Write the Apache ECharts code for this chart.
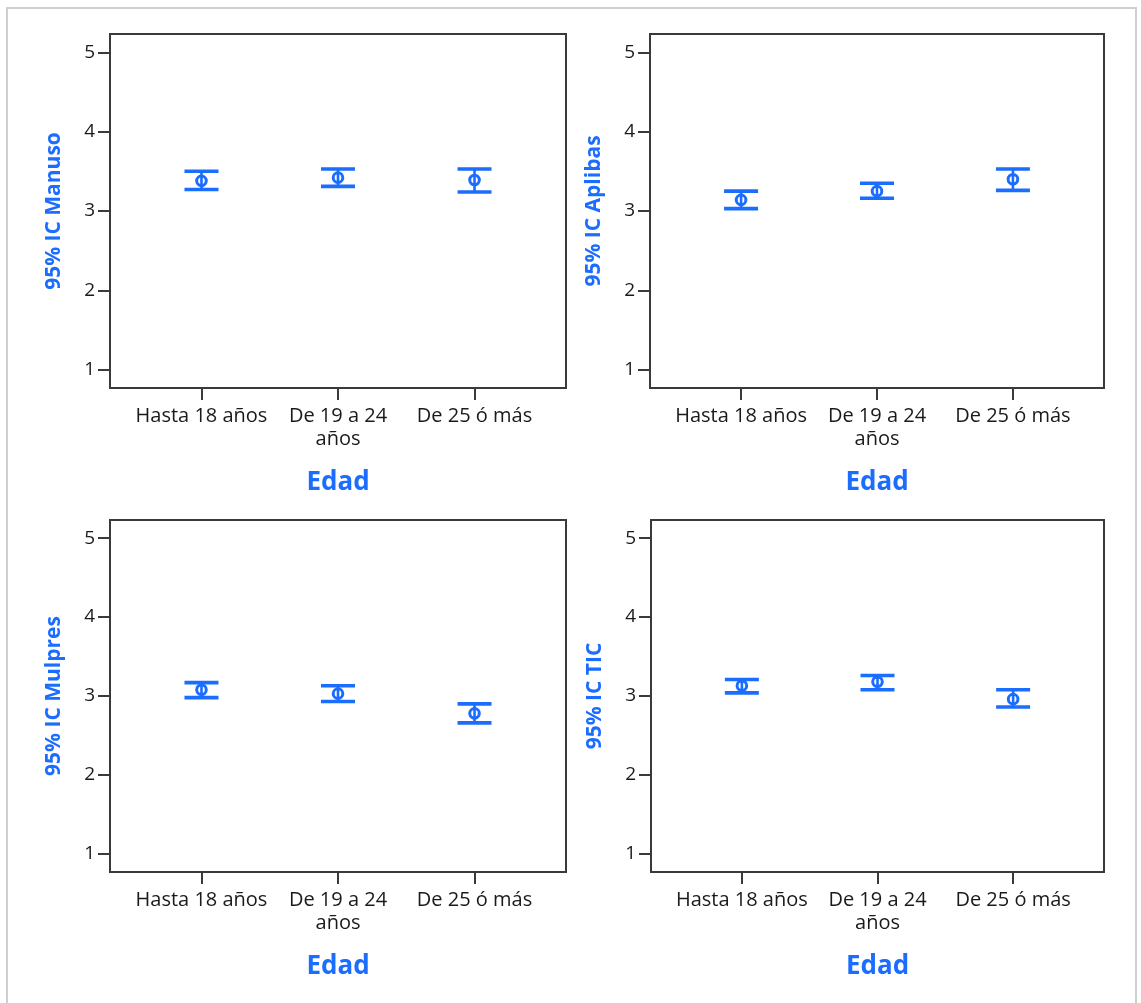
<!DOCTYPE html>
<html>
<head>
<meta charset="utf-8">
<script src="https://cdn.jsdelivr.net/npm/echarts@6/dist/echarts.min.js"></script>
<style>
html,body{margin:0;padding:0;background:#fff;}
#frame{position:absolute;left:6px;top:7px;width:1131px;height:1010px;border:2px solid #cfcfcf;box-sizing:border-box;}
#chart{position:absolute;left:0;top:0;width:1141px;height:1003px;}
</style>
</head>
<body>
<div id="frame"></div>
<div id="chart"></div>
<script>
// ---- data ----
const categories = ['Hasta 18 años', 'De 19 a 24\naños', 'De 25 ó más'];
const yTickValues = [1, 2, 3, 4, 5];
const xTickValues = [1, 2, 3];
const xTitle = 'Edad';
const yTitles = ['95% IC Manuso', '95% IC Aplibas', '95% IC Mulpres', '95% IC TIC'];

const manusoMean = [3.38, 3.42, 3.39];
const manusoLow  = [3.27, 3.31, 3.24];
const manusoHigh = [3.50, 3.53, 3.53];

const aplibasMean = [3.14, 3.25, 3.40];
const aplibasLow  = [3.03, 3.16, 3.26];
const aplibasHigh = [3.25, 3.35, 3.53];

const mulpresMean = [3.08, 3.03, 2.78];
const mulpresLow  = [2.98, 2.93, 2.66];
const mulpresHigh = [3.17, 3.13, 2.90];

const ticMean = [3.13, 3.18, 2.96];
const ticLow  = [3.04, 3.08, 2.86];
const ticHigh = [3.21, 3.26, 3.08];

const panels = [
  {mean: manusoMean, low: manusoLow, high: manusoHigh},
  {mean: aplibasMean, low: aplibasLow, high: aplibasHigh},
  {mean: mulpresMean, low: mulpresLow, high: mulpresHigh},
  {mean: ticMean, low: ticLow, high: ticHigh}
];

// ---- layout / style ----
const BLUE = '#1b6dff';
const DARK = '#3a3a3a';
const FONT = 'Open Sans';
const grids = [
  {left: 110, top: 34, width: 456, height: 354},
  {left: 650, top: 34, width: 454, height: 354},
  {left: 110, top: 520, width: 456, height: 352},
  {left: 651, top: 520, width: 453, height: 352}
];

const option = {
  animation: false,
  backgroundColor: 'transparent',
  grid: grids.map(g => Object.assign({show: true, borderColor: DARK, borderWidth: 2, backgroundColor: 'transparent'}, g)),
  xAxis: grids.map((g, i) => ({
    gridIndex: i,
    type: 'value',
    min: 0.33,
    max: 3.67,
    splitLine: {show: false},
    axisLine: {show: true, onZero: false, lineStyle: {color: DARK, width: 2}},
    axisTick: {show: true, customValues: xTickValues, length: 12, lineStyle: {color: DARK, width: 2}},
    axisLabel: {
      customValues: xTickValues,
      formatter: v => categories[Math.round(v) - 1] || '',
      fontFamily: FONT, fontSize: 20, color: '#1a1a1a', margin: 17, lineHeight: 23
    },
    name: xTitle,
    nameLocation: 'middle',
    nameGap: 82,
    nameTextStyle: {fontFamily: FONT, fontSize: 26, fontWeight: 'bold', color: BLUE}
  })),
  yAxis: grids.map((g, i) => ({
    gridIndex: i,
    type: 'value',
    min: 0.77,
    max: 5.23,
    splitLine: {show: false},
    axisLine: {show: true, onZero: false, lineStyle: {color: DARK, width: 2}},
    axisTick: {show: true, customValues: yTickValues, length: 12, lineStyle: {color: DARK, width: 2}},
    axisLabel: {
      customValues: yTickValues,
      fontFamily: FONT, fontSize: 19, color: '#1a1a1a', margin: 15
    },
    name: yTitles[i],
    nameLocation: 'middle',
    nameRotate: 90,
    nameGap: 45,
    nameTextStyle: {fontFamily: FONT, fontSize: 21, fontWeight: 'bold', color: BLUE}
  })),
  series: panels.map((p, i) => ({
    type: 'custom',
    xAxisIndex: i,
    yAxisIndex: i,
    data: p.mean.map((m, k) => [xTickValues[k], m, p.low[k], p.high[k]]),
    renderItem: function (params, api) {
      const x = api.value(0);
      const c = api.coord([x, api.value(1)]);
      const lo = api.coord([x, api.value(2)]);
      const hi = api.coord([x, api.value(3)]);
      const half = 17;
      const st = {stroke: BLUE, lineWidth: 3.6, fill: null};
      return {
        type: 'group',
        children: [
          {type: 'line', shape: {x1: hi[0], y1: hi[1], x2: lo[0], y2: lo[1]}, style: {stroke: BLUE, lineWidth: 2.6}},
          {type: 'line', shape: {x1: hi[0] - half, y1: hi[1], x2: hi[0] + half, y2: hi[1]}, style: st},
          {type: 'line', shape: {x1: lo[0] - half, y1: lo[1], x2: lo[0] + half, y2: lo[1]}, style: st},
          {type: 'circle', shape: {cx: c[0], cy: c[1], r: 4.8}, style: {stroke: BLUE, lineWidth: 3, fill: 'transparent'}}
        ]
      };
    }
  }))
};

const chart = echarts.init(document.getElementById('chart'), null, {renderer: 'canvas'});
chart.setOption(option);
</script>
</body>
</html>
